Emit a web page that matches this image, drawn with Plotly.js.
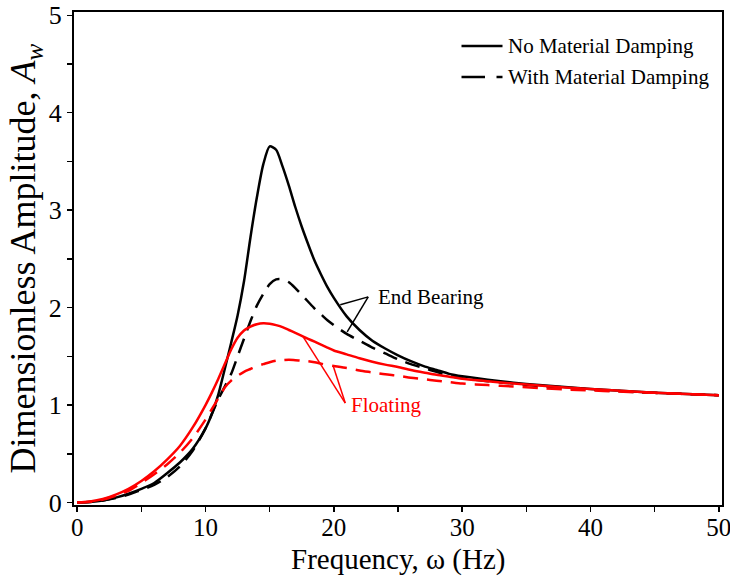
<!DOCTYPE html>
<html>
<head>
<meta charset="utf-8">
<script src="https://cdn.plot.ly/plotly-3.0.1.min.js"></script>
<style>html,body{margin:0;padding:0;background:#fff;}#chart{width:730px;height:579px;}</style>
</head>
<body>
<div id="chart"></div>
<script>
// Frequency (Hz)
const freq = [0, 1, 2, 3, 4, 5, 6, 7, 8, 9, 10, 10.5, 11, 11.5, 12, 12.5, 13, 13.5, 14, 14.5, 15, 15.5, 16, 16.5, 17, 17.5, 18, 18.5, 19, 19.5, 20, 21, 22, 23, 24, 25, 26, 27, 28, 29, 30, 32, 34, 36, 38, 40, 42, 44, 46, 48, 50];
// End bearing, no material damping
const endNoDamp = [0, 0.005, 0.02, 0.05, 0.09, 0.14, 0.20, 0.30, 0.41, 0.55, 0.76, 0.91, 1.11, 1.37, 1.64, 1.92, 2.27, 2.72, 3.13, 3.47, 3.655, 3.62, 3.45, 3.25, 3.03, 2.83, 2.65, 2.48, 2.34, 2.21, 2.10, 1.91, 1.77, 1.66, 1.58, 1.51, 1.45, 1.40, 1.36, 1.32, 1.295, 1.26, 1.23, 1.205, 1.185, 1.165, 1.15, 1.135, 1.12, 1.11, 1.10];
// End bearing, with material damping
const endDamp = [0, 0.005, 0.02, 0.045, 0.08, 0.13, 0.18, 0.26, 0.37, 0.53, 0.76, 0.91, 1.06, 1.19, 1.32, 1.50, 1.68, 1.86, 2.02, 2.14, 2.24, 2.29, 2.29, 2.26, 2.20, 2.13, 2.06, 1.99, 1.93, 1.87, 1.82, 1.73, 1.66, 1.59, 1.53, 1.47, 1.42, 1.38, 1.34, 1.30, 1.275, 1.245, 1.22, 1.195, 1.18, 1.16, 1.145, 1.13, 1.12, 1.11, 1.10];
// Floating, no material damping
const floatNoDamp = [0, 0.01, 0.035, 0.08, 0.14, 0.22, 0.32, 0.44, 0.58, 0.77, 1.00, 1.13, 1.27, 1.42, 1.57, 1.69, 1.765, 1.805, 1.83, 1.84, 1.835, 1.82, 1.80, 1.77, 1.74, 1.71, 1.68, 1.65, 1.62, 1.59, 1.56, 1.52, 1.48, 1.445, 1.415, 1.39, 1.36, 1.335, 1.31, 1.29, 1.27, 1.245, 1.22, 1.20, 1.18, 1.165, 1.15, 1.135, 1.12, 1.11, 1.10];
// Floating, with material damping
const floatDamp = [0, 0.008, 0.03, 0.07, 0.12, 0.20, 0.29, 0.39, 0.51, 0.66, 0.85, 0.96, 1.07, 1.18, 1.25, 1.30, 1.34, 1.37, 1.40, 1.42, 1.44, 1.455, 1.46, 1.465, 1.46, 1.455, 1.45, 1.44, 1.425, 1.41, 1.40, 1.38, 1.355, 1.335, 1.315, 1.30, 1.28, 1.265, 1.25, 1.235, 1.22, 1.205, 1.19, 1.175, 1.16, 1.15, 1.14, 1.13, 1.12, 1.11, 1.10];

const xTickVals = [0, 10, 20, 30, 40, 50];
const yTickVals = [0, 1, 2, 3, 4, 5];
const legendNames = ['No Material Damping', 'With Material Damping'];
const xTitle = 'Frequency, ω (Hz)';
const yTitle = 'Dimensionless Amplitude, <i>A</i><sub><i>w</i></sub>';

const serif = "Liberation Serif";
const dashPat = "15px,9px";

function curve(y, color, dash) {
  const line = {color: color, width: 2.5, shape: 'spline', smoothing: 0.7};
  if (dash) line.dash = dash;
  return {x: freq, y: y, mode: 'lines', line: line, showlegend: false, hoverinfo: 'skip'};
}

const traces = [
  curve(endNoDamp, '#000000'),
  curve(endDamp, '#000000', dashPat),
  curve(floatNoDamp, '#ff0000'),
  curve(floatDamp, '#ff0000', dashPat)
];

// plot area in pixels: left 74, right 722, top 12, bottom 505
const px = v => (v - 74) / 648;
const py = v => (505 - v) / 493;

const layout = {
  width: 730, height: 579,
  margin: {l: 74, r: 8, t: 12, b: 74},
  paper_bgcolor: '#fff', plot_bgcolor: '#fff',
  font: {family: serif, color: '#000'},
  showlegend: false,
  xaxis: {
    range: [-0.25, 50.25], tickvals: xTickVals, ticktext: xTickVals.map(String),
    ticks: 'outside', ticklen: 5, tickwidth: 1.5, tickcolor: '#000',
    minor: {dtick: 5, tick0: 0, ticks: 'outside', ticklen: 5, tickwidth: 1.5, tickcolor: '#000', showgrid: false},
    showline: true, linewidth: 2, linecolor: '#000', mirror: true,
    showgrid: false, zeroline: false, ticklabeloverflow: 'allow',
    ticklabelstandoff: -6,
    tickfont: {family: serif, size: 25, color: '#000'}
  },
  yaxis: {
    range: [-0.026, 5.034], tickvals: yTickVals, ticktext: yTickVals.map(String),
    ticks: 'outside', ticklen: 5, tickwidth: 1.5, tickcolor: '#000',
    minor: {dtick: 0.5, tick0: 0, ticks: 'outside', ticklen: 5, tickwidth: 1.5, tickcolor: '#000', showgrid: false},
    showline: true, linewidth: 2, linecolor: '#000', mirror: true,
    showgrid: false, zeroline: false,
    tickfont: {family: serif, size: 26, color: '#000'},
    title: {text: yTitle, font: {family: serif, size: 36, color: '#000'}, standoff: 2}
  },
  annotations: [
    {x: 0.5, y: py(559), xref: 'paper', yref: 'paper', text: xTitle, showarrow: false, xanchor: 'center', yanchor: 'middle', font: {family: serif, size: 29, color: '#000'}},
    {x: 23.3, y: 2.11, xref: 'x', yref: 'y', text: 'End Bearing', showarrow: false, xanchor: 'left', yanchor: 'middle', font: {family: serif, size: 21, color: '#000'}},
    {x: 21.2, y: 1.00, xref: 'x', yref: 'y', text: 'Floating', showarrow: false, xanchor: 'left', yanchor: 'middle', font: {family: serif, size: 21, color: '#ff0000'}},
    {x: px(506), y: py(46), xref: 'paper', yref: 'paper', text: legendNames[0], showarrow: false, xanchor: 'left', yanchor: 'middle', font: {family: serif, size: 21, color: '#000'}},
    {x: px(506), y: py(77), xref: 'paper', yref: 'paper', text: legendNames[1], showarrow: false, xanchor: 'left', yanchor: 'middle', font: {family: serif, size: 21, color: '#000'}}
  ],
  shapes: [
    {type: 'line', xref: 'x', yref: 'y', x0: 22.68, y0: 2.11, x1: 20.50, y1: 2.03, line: {color: '#000', width: 1.5}},
    {type: 'line', xref: 'x', yref: 'y', x0: 22.68, y0: 2.11, x1: 21.04, y1: 1.75, line: {color: '#000', width: 1.5}},
    {type: 'line', xref: 'x', yref: 'y', x0: 20.89, y0: 1.02, x1: 17.61, y1: 1.70, line: {color: '#ff0000', width: 1.5}},
    {type: 'line', xref: 'x', yref: 'y', x0: 20.89, y0: 1.02, x1: 19.95, y1: 1.40, line: {color: '#ff0000', width: 1.5}},
    // legend keys
    {type: 'line', xref: 'paper', yref: 'paper', x0: px(461.5), x1: px(502.5), y0: py(46), y1: py(46), line: {color: '#000', width: 2.5}},
    {type: 'line', xref: 'paper', yref: 'paper', x0: px(461.5), x1: px(485), y0: py(77), y1: py(77), line: {color: '#000', width: 2.5}},
    {type: 'line', xref: 'paper', yref: 'paper', x0: px(496.5), x1: px(502.5), y0: py(77), y1: py(77), line: {color: '#000', width: 2.5}}
  ]
};

Plotly.newPlot('chart', traces, layout, {displayModeBar: false, staticPlot: true});
</script>
</body>
</html>
